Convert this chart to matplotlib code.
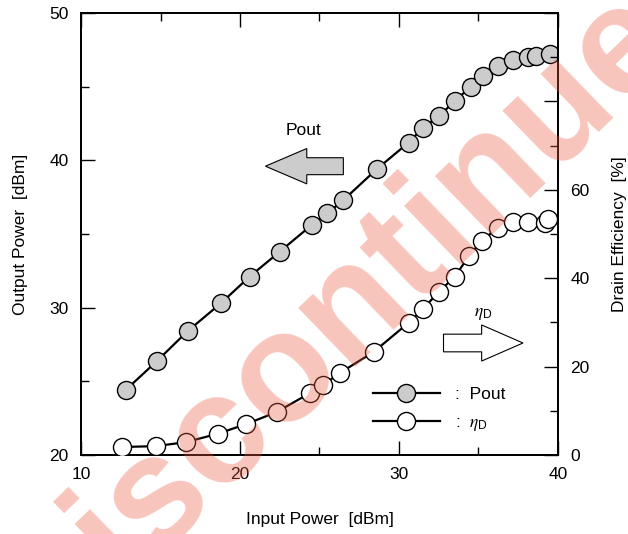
import numpy as np
import matplotlib
matplotlib.use('Agg')
import matplotlib.pyplot as plt
from matplotlib.lines import Line2D
from matplotlib.patches import FancyArrow
from matplotlib.ticker import MultipleLocator

plt.rcParams['font.family'] = ['Liberation Sans', 'DejaVu Sans']
plt.rcParams['mathtext.fontset'] = 'custom'
plt.rcParams['mathtext.rm'] = 'Liberation Sans'
plt.rcParams['mathtext.it'] = 'STIXGeneral:italic'

# input power [dBm] vs output power [dBm]
pin_pout = [12.8, 14.8, 16.7, 18.8, 20.6, 22.5, 24.5, 25.5, 26.5, 28.6, 30.6,
            31.5, 32.5, 33.5, 34.5, 35.3, 36.2, 37.2, 38.1, 38.6, 39.5]
pout = [24.4, 26.4, 28.4, 30.3, 32.1, 33.8, 35.6, 36.4, 37.3, 39.4, 41.2,
        42.2, 43.0, 44.0, 45.0, 45.7, 46.4, 46.8, 47.0, 47.1, 47.2]

# input power [dBm] vs drain efficiency [%]
pin_eff = [12.6, 14.7, 16.6, 18.6, 20.4, 22.3, 24.4, 25.2, 26.3, 28.4, 30.6,
           31.5, 32.5, 33.5, 34.4, 35.2, 36.2, 37.2, 38.1, 39.2, 39.4]
eff = [1.8, 2.0, 2.9, 4.8, 7.0, 9.7, 14.0, 15.8, 18.6, 23.3, 29.9,
       33.0, 36.9, 40.3, 45.0, 48.4, 51.4, 52.7, 52.7, 52.5, 53.4]

fs = 12.5
eta = r'$\eta_{\mathrm{D}}$'

fig = plt.figure(figsize=(6.28, 5.34), dpi=100)
ax = fig.add_axes([0.129, 0.148, 0.7595, 0.8277])
ax2 = ax.twinx()

ax.plot(pin_pout, pout, '-o', color='black', lw=1.6, ms=13,
        mfc='#cccccc', mec='black', mew=1.0, zorder=3)
ax2.plot(pin_eff, eff, '-o', color='black', lw=1.6, ms=13,
         mfc='white', mec='black', mew=1.0, zorder=3)

ax.set_xlim(10, 40)
ax.set_ylim(20, 50)
ax2.set_ylim(0, 100)

ax.xaxis.set_major_locator(MultipleLocator(10))
ax.xaxis.set_minor_locator(MultipleLocator(5))
ax.yaxis.set_major_locator(MultipleLocator(10))
ax.yaxis.set_minor_locator(MultipleLocator(5))
ax2.set_yticks([0, 20, 40, 60, 80, 100])
ax2.set_yticklabels(['0', '20', '40', '60', '', ''])
ax2.yaxis.set_minor_locator(MultipleLocator(10))

ax.tick_params(which='both', direction='in', top=True, right=False,
               labelsize=fs, width=1.0)
ax.tick_params(which='major', length=10, pad=9)
ax.tick_params(which='minor', length=6)
ax2.tick_params(which='both', direction='in', labelsize=fs, width=1.0)
ax2.tick_params(which='major', length=10, pad=9)
ax2.tick_params(which='minor', length=6)

for a in (ax, ax2):
    for s in a.spines.values():
        s.set_linewidth(1.4)

ax.set_xlabel('Input Power  [dBm]', fontsize=fs, labelpad=21)
ax.set_ylabel('Output Power  [dBm]', fontsize=fs, labelpad=15)
ax2.set_ylabel('Drain Efficiency  [%]', fontsize=fs, labelpad=16)

# block arrows pointing to each axis
ax.add_patch(FancyArrow(26.5, 39.6, -4.9, 0, width=1.15, head_width=2.4,
                        head_length=2.6, length_includes_head=True,
                        fc='#cccccc', ec='black', lw=0.8, zorder=4))
ax.text(24.0, 42.0, 'Pout', fontsize=fs, ha='center', va='center')
ax.add_patch(FancyArrow(32.8, 27.6, 5.0, 0, width=1.2, head_width=2.45,
                        head_length=2.6, length_includes_head=True,
                        fc='white', ec='black', lw=0.8, zorder=4))
ax.text(35.3, 29.6, eta, fontsize=fs, ha='center', va='center')

handles = [Line2D([], [], color='black', lw=1.6, marker='o', ms=13,
                  mfc='#cccccc', mec='black', mew=1.0),
           Line2D([], [], color='black', lw=1.6, marker='o', ms=13,
                  mfc='white', mec='black', mew=1.0)]
ax2.legend(handles, [':  Pout', ':  ' + eta], loc='upper left',
           bbox_to_anchor=(0.612, 0.155), frameon=False, fontsize=fs,
           handlelength=3.85, handletextpad=0.9, labelspacing=0.75,
           borderpad=0, borderaxespad=0)

# watermark
fig.text(0.585, 0.458, 'Discontinued', fontsize=112, fontweight='bold',
         color=(0.93, 0.35, 0.25), alpha=0.35, rotation=44,
         ha='center', va='center', zorder=10)

fig.savefig('out.png', dpi=100)
